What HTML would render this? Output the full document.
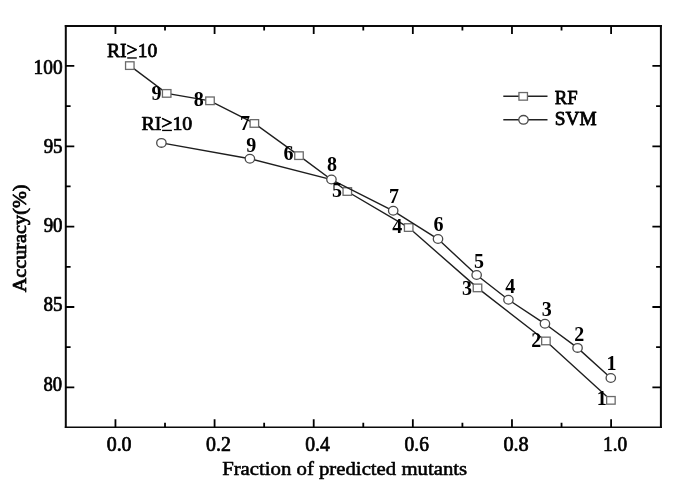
<!DOCTYPE html><html><head><meta charset="utf-8"><style>html,body{margin:0;padding:0;background:#fff;}svg{display:block;will-change:transform;}text{font-family:"Liberation Serif",serif;fill:#000;}</style></head><body>
<svg width="685" height="491" viewBox="0 0 685 491">
<path d="M64.8 26.0H661.9" stroke="#0a0a0a" stroke-width="1.85"/>
<path d="M64.8 427.3H661.9" stroke="#0a0a0a" stroke-width="1.5"/>
<path d="M65.8 25.1V428.05M660.9 25.1V428.05" stroke="#0a0a0a" stroke-width="2"/>
<path d="M115.45 427.3V419.3M115.45 26.0V34.0M165.01 427.3V422.8M165.01 26.0V30.5M214.58 427.3V419.3M214.58 26.0V34.0M264.15 427.3V422.8M264.15 26.0V30.5M313.71 427.3V419.3M313.71 26.0V34.0M363.28 427.3V422.8M363.28 26.0V30.5M412.84 427.3V419.3M412.84 26.0V34.0M462.41 427.3V422.8M462.41 26.0V30.5M511.97 427.3V419.3M511.97 26.0V34.0M561.53 427.3V422.8M561.53 26.0V30.5M611.10 427.3V419.3M611.10 26.0V34.0M65.8 65.90H74.3M660.9 65.90H652.4M65.8 106.09H70.6M660.9 106.09H656.1M65.8 146.28H74.3M660.9 146.28H652.4M65.8 186.46H70.6M660.9 186.46H656.1M65.8 226.65H74.3M660.9 226.65H652.4M65.8 266.84H70.6M660.9 266.84H656.1M65.8 307.02H74.3M660.9 307.02H652.4M65.8 347.21H70.6M660.9 347.21H656.1M65.8 387.40H74.3M660.9 387.40H652.4" stroke="#000" stroke-width="1.8" fill="none"/>
<polyline points="129.8,65.6 166.7,93.4 210.0,100.8 254.35,123.45 299.0,155.65 347.3,191.5 408.7,227.55 477.5,287.9 545.9,340.95 610.9,400.35" fill="none" stroke="#1e1e1e" stroke-width="1.4"/>
<rect x="125.55" y="61.80" width="8.5" height="7.6" fill="#fff" stroke="#6a6a6a" stroke-width="1.3"/>
<rect x="162.45" y="89.60" width="8.5" height="7.6" fill="#fff" stroke="#6a6a6a" stroke-width="1.3"/>
<rect x="205.75" y="97.00" width="8.5" height="7.6" fill="#fff" stroke="#6a6a6a" stroke-width="1.3"/>
<rect x="250.10" y="119.65" width="8.5" height="7.6" fill="#fff" stroke="#6a6a6a" stroke-width="1.3"/>
<rect x="294.75" y="151.85" width="8.5" height="7.6" fill="#fff" stroke="#6a6a6a" stroke-width="1.3"/>
<rect x="343.05" y="187.70" width="8.5" height="7.6" fill="#fff" stroke="#6a6a6a" stroke-width="1.3"/>
<rect x="404.45" y="223.75" width="8.5" height="7.6" fill="#fff" stroke="#6a6a6a" stroke-width="1.3"/>
<rect x="473.25" y="284.10" width="8.5" height="7.6" fill="#fff" stroke="#6a6a6a" stroke-width="1.3"/>
<rect x="541.65" y="337.15" width="8.5" height="7.6" fill="#fff" stroke="#6a6a6a" stroke-width="1.3"/>
<rect x="606.65" y="396.55" width="8.5" height="7.6" fill="#fff" stroke="#6a6a6a" stroke-width="1.3"/>
<polyline points="161.4,142.9 249.9,158.8 331.45,179.55 393.2,210.8 438.0,239.05 476.65,275.05 508.45,299.75 544.95,323.8 577.55,347.9 610.8,377.95" fill="none" stroke="#1e1e1e" stroke-width="1.4"/>
<ellipse cx="161.4" cy="142.9" rx="4.7" ry="4.35" fill="#fff" stroke="#4a4a4a" stroke-width="1.3"/>
<ellipse cx="249.9" cy="158.8" rx="4.7" ry="4.35" fill="#fff" stroke="#4a4a4a" stroke-width="1.3"/>
<ellipse cx="331.45" cy="179.55" rx="4.7" ry="4.35" fill="#fff" stroke="#4a4a4a" stroke-width="1.3"/>
<ellipse cx="393.2" cy="210.8" rx="4.7" ry="4.35" fill="#fff" stroke="#4a4a4a" stroke-width="1.3"/>
<ellipse cx="438.0" cy="239.05" rx="4.7" ry="4.35" fill="#fff" stroke="#4a4a4a" stroke-width="1.3"/>
<ellipse cx="476.65" cy="275.05" rx="4.7" ry="4.35" fill="#fff" stroke="#4a4a4a" stroke-width="1.3"/>
<ellipse cx="508.45" cy="299.75" rx="4.7" ry="4.35" fill="#fff" stroke="#4a4a4a" stroke-width="1.3"/>
<ellipse cx="544.95" cy="323.8" rx="4.7" ry="4.35" fill="#fff" stroke="#4a4a4a" stroke-width="1.3"/>
<ellipse cx="577.55" cy="347.9" rx="4.7" ry="4.35" fill="#fff" stroke="#4a4a4a" stroke-width="1.3"/>
<ellipse cx="610.8" cy="377.95" rx="4.7" ry="4.35" fill="#fff" stroke="#4a4a4a" stroke-width="1.3"/>
<path d="M503.3 96.3H547.5M503.3 119.7H547.5" stroke="#222" stroke-width="1.5"/>
<rect x="518.95" y="92.55" width="8.5" height="7.6" fill="#fff" stroke="#6a6a6a" stroke-width="1.3"/>
<ellipse cx="523.5" cy="119.85" rx="4.7" ry="4.35" fill="#fff" stroke="#4a4a4a" stroke-width="1.3"/>
<text transform="translate(33.55 73.55) scale(0.9679 1)" font-size="20" font-weight="normal" stroke="#000" stroke-width="0.7" stroke-linejoin="round">100</text>
<text transform="translate(43.66 153.02) scale(0.9455 1)" font-size="20" font-weight="normal" stroke="#000" stroke-width="0.7" stroke-linejoin="round">95</text>
<text transform="translate(43.66 231.65) scale(0.9455 1)" font-size="20" font-weight="normal" stroke="#000" stroke-width="0.7" stroke-linejoin="round">90</text>
<text transform="translate(43.52 310.85) scale(0.9526 1)" font-size="20" font-weight="normal" stroke="#000" stroke-width="0.7" stroke-linejoin="round">85</text>
<text transform="translate(43.53 391.15) scale(0.9316 1)" font-size="20" font-weight="normal" stroke="#000" stroke-width="0.7" stroke-linejoin="round">80</text>
<text transform="translate(106.70 450.90) scale(0.9958 1)" font-size="20" font-weight="normal" stroke="#000" stroke-width="0.7" stroke-linejoin="round">0.0</text>
<text transform="translate(206.10 450.90) scale(0.9937 1)" font-size="20" font-weight="normal" stroke="#000" stroke-width="0.7" stroke-linejoin="round">0.2</text>
<text transform="translate(305.21 450.90) scale(0.9837 1)" font-size="20" font-weight="normal" stroke="#000" stroke-width="0.7" stroke-linejoin="round">0.4</text>
<text transform="translate(404.61 450.90) scale(0.9732 1)" font-size="20" font-weight="normal" stroke="#000" stroke-width="0.7" stroke-linejoin="round">0.6</text>
<text transform="translate(503.39 450.90) scale(1.0125 1)" font-size="20" font-weight="normal" stroke="#000" stroke-width="0.7" stroke-linejoin="round">0.8</text>
<text transform="translate(603.05 450.90) scale(0.9652 1)" font-size="20" font-weight="normal" stroke="#000" stroke-width="0.7" stroke-linejoin="round">1.0</text>
<text x="151.55" y="100.00" font-size="20" font-weight="bold">9</text>
<text x="193.75" y="105.90" font-size="20" font-weight="bold">8</text>
<text x="239.93" y="130.47" font-size="20" font-weight="bold">7</text>
<text x="283.62" y="159.80" font-size="20" font-weight="bold">6</text>
<text x="332.10" y="196.62" font-size="20" font-weight="bold">5</text>
<text x="392.30" y="233.47" font-size="20" font-weight="bold">4</text>
<text x="462.12" y="295.15" font-size="20" font-weight="bold">3</text>
<text x="531.15" y="346.58" font-size="20" font-weight="bold">2</text>
<text x="596.80" y="404.73" font-size="20" font-weight="bold">1</text>
<text x="246.18" y="152.30" font-size="20" font-weight="bold">9</text>
<text x="327.02" y="170.95" font-size="20" font-weight="bold">8</text>
<text x="389.00" y="202.70" font-size="20" font-weight="bold">7</text>
<text x="433.58" y="230.72" font-size="20" font-weight="bold">6</text>
<text x="473.95" y="267.73" font-size="20" font-weight="bold">5</text>
<text x="505.30" y="292.82" font-size="20" font-weight="bold">4</text>
<text x="541.85" y="316.05" font-size="20" font-weight="bold">3</text>
<text x="574.27" y="341.48" font-size="20" font-weight="bold">2</text>
<text x="606.50" y="369.68" font-size="20" font-weight="bold">1</text>
<text transform="translate(107.05 57.00) scale(1.0040 1)" font-size="19.5" font-weight="normal" stroke="#000" stroke-width="0.75" stroke-linejoin="round">RI<tspan dy="-1.4">&gt;</tspan><tspan dy="1.4">10</tspan></text>
<text transform="translate(141.45 130.00) scale(1.0172 1)" font-size="19.5" font-weight="normal" stroke="#000" stroke-width="0.75" stroke-linejoin="round">RI<tspan dy="-1.4">&gt;</tspan><tspan dy="1.4">10</tspan></text>
<text transform="translate(554.76 104.00) scale(0.9591 1)" font-size="19.5" font-weight="normal" stroke="#000" stroke-width="0.8" stroke-linejoin="round">RF</text>
<text transform="translate(554.71 125.30) scale(0.9902 1)" font-size="19.5" font-weight="normal" stroke="#000" stroke-width="0.8" stroke-linejoin="round">SVM</text>
<text transform="translate(222.13 475.12) scale(1.0935 1)" font-size="19" font-weight="normal" stroke="#000" stroke-width="0.55" stroke-linejoin="round">Fraction of predicted mutants</text>
<text transform="translate(26.20 292.34) rotate(-90) scale(1.0381 1)" font-size="19.5" font-weight="normal" stroke="#000" stroke-width="0.75" stroke-linejoin="round">Accuracy(%)</text>
<rect x="127.2" y="57.3" width="9.6" height="1.35" fill="#000"/>
<rect x="162.1" y="129.75" width="9.8" height="1.35" fill="#000"/>
</svg></body></html>
